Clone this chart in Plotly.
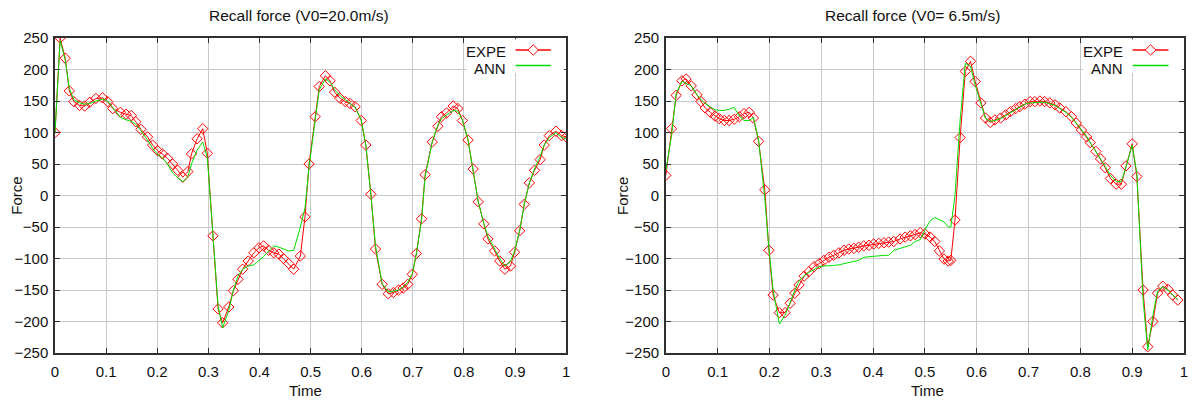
import plotly.graph_objects as go

# ---------------- data: left chart (V0 = 20.0 m/s) ----------------
time_left = [0, .01, .02, .028, .037, .048, .058, .068, .08, .093,
             .103, .113, .128, .139, .149, .158, .168, .181, .191, .201,
             .21, .22, .23, .24, .25, .26, .267, .278, .289, .298,
             .309, .319, .328, .34, .349, .358, .367, .378, .389, .399,
             .408, .418, .428, .438, .447, .457, .467, .48, .489, .497,
             .509, .517, .529, .538, .547, .558, .568, .577, .587, .599,
             .608, .618, .627, .64, .652, .662, .672, .681, .69, .699,
             .707, .717, .724, .738, .749, .756, .766, .779, .788, .797,
             .808, .818, .828, .839, .847, .86, .87, .88, .891, .899,
             .909, .918, .928, .938, .949, .957, .967, .98, .991, 1.0]
expe_left = [100, 250, 218, 166, 149, 143, 142, 148, 154, 155,
             149, 138, 132, 129, 127, 117, 105, 93, 80, 71,
             66, 59, 50, 40, 29, 38, 66, 90, 106, 67,
             -64, -180, -202, -177, -151, -133, -117, -104, -91, -83,
             -80, -87, -91, -93, -100, -108, -117, -96, -34, 50,
             125, 173, 190, 182, 164, 154, 149, 146, 141, 119,
             80, 2, -85, -141, -156, -154, -150, -147, -141, -125,
             -92, -37, 33, 85, 110, 125, 131, 142, 138, 119,
             88, 42, -10, -45, -69, -88, -104, -117, -112, -90,
             -56, -14, 20, 40, 57, 80, 95, 102, 95, 93]
ann_left = [100, 246, 215, 170, 152, 147, 145, 146, 150, 153,
            150, 140, 124, 120, 118, 113, 103, 88, 75, 65,
            60, 50, 36, 28, 22, 30, 50, 72, 85, 60,
            -60, -175, -210, -182, -150, -128, -117, -112, -110, -103,
            -97, -88, -80, -82, -85, -88, -87, -50, -20, 45,
            120, 168, 185, 180, 168, 158, 152, 146, 140, 120,
            80, 0, -80, -140, -153, -152, -150, -145, -138, -124,
            -92, -40, 30, 85, 112, 122, 128, 135, 134, 120,
            88, 42, -10, -45, -65, -85, -100, -112, -105, -88,
            -56, -14, 20, 42, 62, 80, 92, 100, 92, 90]

# ---------------- data: right chart (V0 = 6.5 m/s) ----------------
time_right = [0, .011, .02, .031, .039, .049, .06, .068, .076, .086,
              .095, .103, .113, .122, .132, .142, .151, .161, .169, .179,
              .191, .199, .207, .219, .23, .24, .249, .257, .267, .276,
              .286, .296, .305, .315, .324, .334, .344, .353, .363, .372,
              .382, .392, .401, .411, .421, .43, .44, .452, .462, .472,
              .481, .491, .5, .51, .519, .528, .537, .545, .55, .558,
              .568, .578, .588, .597, .608, .617, .626, .635, .646, .656,
              .665, .675, .683, .693, .703, .712, .722, .731, .741, .751,
              .76, .772, .783, .792, .802, .812, .819, .83, .839, .848,
              .858, .869, .879, .888, .9, .909, .921, .93, .94, .949,
              .959, .969, .978, .988]
expe_right = [32, 106, 159, 182, 185, 174, 160, 149, 139, 132,
              126, 122, 119, 119, 121, 125, 130, 132, 123, 86,
              9, -87, -158, -186, -186, -171, -155, -142, -128, -121,
              -113, -108, -103, -98, -95, -91, -87, -85, -84, -82,
              -80, -79, -77, -76, -75, -74, -73, -69, -66, -64,
              -62, -59, -61, -66, -73, -88, -101, -104, -103, -39,
              92, 197, 213, 181, 147, 123, 116, 120, 123, 128,
              133, 138, 141, 145, 149, 149, 150, 149, 147, 144,
              139, 133, 125, 115, 104, 93, 84, 70, 58, 44,
              27, 18, 18, 47, 82, 30, -150, -240, -200, -155,
              -144, -149, -158, -166]
ann_right = [40, 95, 162, 181, 178, 174, 160, 152, 146, 140,
             136, 135, 135, 137, 140, 126, 119, 119, 124, 88,
             -5, -85, -150, -204, -190, -170, -150, -136, -127, -122,
             -117, -113, -112, -112, -111, -110, -108, -106, -105, -103,
             -98, -97, -96, -96, -95, -95, -87, -84, -81, -79,
             -73, -70, -55, -40, -35, -38, -42, -50, -50, 0,
             120, 210, 205, 175, 145, 122, 118, 119, 122, 127,
             132, 137, 141, 145, 147, 148, 148, 148, 146, 143,
             138, 132, 124, 115, 105, 94, 84, 70, 58, 46,
             32, 22, 22, 45, 80, 35, -165, -245, -190, -152,
             -145, -150, -158, -165]

titles = ["Recall force (V0=20.0m/s)", "Recall force (V0= 6.5m/s)"]
series_names = ["EXPE", "ANN"]
x_title = "Time"
y_title = "Force"

RED = "#ff0000"
GREEN = "#00e000"
FONT = "Liberation Sans, Arial, sans-serif"

fig = go.Figure()

panels = [(time_left, expe_left, ann_left, "x", "y"),
          (time_right, expe_right, ann_right, "x2", "y2")]
for t, e, a, xa, ya in panels:
    fig.add_trace(go.Scatter(x=t, y=e, mode="lines+markers", name=series_names[0],
                             xaxis=xa, yaxis=ya, showlegend=False,
                             line=dict(color=RED, width=1),
                             marker=dict(symbol="diamond-open", size=8,
                                         color=RED, line=dict(width=1, color=RED))))
    fig.add_trace(go.Scatter(x=t, y=a, mode="lines", name=series_names[1],
                             xaxis=xa, yaxis=ya, showlegend=False,
                             line=dict(color=GREEN, width=1)))

axis_common = dict(showgrid=True, gridcolor="#c8c8c8", gridwidth=1,
                   showline=True, linecolor="#303030", linewidth=1.5,
                   mirror="allticks", ticks="inside", ticklen=5,
                   tickcolor="#303030", zeroline=False,
                   tickfont=dict(family=FONT, size=15, color="#111111"))

dom_left = [0, 513 / 1133]
dom_right = [613 / 1133, 1]

fig.update_layout(
    width=1192, height=401,
    margin=dict(l=55, r=4, t=38, b=48),
    paper_bgcolor="white", plot_bgcolor="white",
    font=dict(family=FONT, size=15, color="#111111"),
    xaxis=dict(domain=dom_left, range=[0, 1], dtick=0.1, anchor="y",
               ticklabelstandoff=4, **axis_common),
    yaxis=dict(domain=[0, 1], range=[-250, 250], dtick=50, anchor="x",
               ticklabelstandoff=2, **axis_common),
    xaxis2=dict(domain=dom_right, range=[0, 1], dtick=0.1, anchor="y2",
                ticklabelstandoff=4, **axis_common),
    yaxis2=dict(domain=[0, 1], range=[-250, 250], dtick=50, anchor="x2",
                ticklabelstandoff=2, **axis_common),
)

annotations = []
shapes = []
title_x = [(300 - 55) / 1133, (916 - 55) / 1133]
time_x = [(306 - 55) / 1133, (931 - 55) / 1133]
force_x = [(16 - 55) / 1133, (624.5 - 55) / 1133]
for i, (xa, ya) in enumerate([("x", "y"), ("x2", "y2")]):
    annotations.append(dict(text=titles[i], x=title_x[i], y=(353 - 15) / 315,
                            xref="paper", yref="paper", showarrow=False,
                            xanchor="center", yanchor="middle",
                            font=dict(family=FONT, size=15.5, color="#111111")))
    annotations.append(dict(text=x_title, x=time_x[i], y=(353 - 390) / 315,
                            xref="paper", yref="paper", showarrow=False,
                            xanchor="center", yanchor="middle",
                            font=dict(family=FONT, size=15, color="#111111")))
    annotations.append(dict(text=y_title, x=force_x[i], y=0.5,
                            xref="paper", yref="paper", showarrow=False,
                            textangle=-90, xanchor="center", yanchor="middle",
                            font=dict(family=FONT, size=15, color="#111111")))
    xd, yd = xa + " domain", ya + " domain"
    # legend box (text on the left, sample on the right, as in gnuplot)
    shapes.append(dict(type="rect", xref=xd, yref=yd, x0=0.806, x1=0.996,
                       y0=0.889, y1=0.996, fillcolor="white",
                       line=dict(width=0), layer="above"))
    annotations.append(dict(text=series_names[0], x=0.886, y=0.957, xref=xd, yref=yd,
                            showarrow=False, xanchor="right", yanchor="middle",
                            font=dict(family=FONT, size=15, color="#111111")))
    annotations.append(dict(text=series_names[1], x=0.886, y=0.904, xref=xd, yref=yd,
                            showarrow=False, xanchor="right", yanchor="middle",
                            font=dict(family=FONT, size=15, color="#111111")))
    shapes.append(dict(type="line", xref=xd, yref=yd, x0=0.901, x1=0.970,
                       y0=0.962, y1=0.962, line=dict(color=RED, width=1.5),
                       layer="above"))
    shapes.append(dict(type="line", xref=xd, yref=yd, x0=0.901, x1=0.970,
                       y0=0.913, y1=0.913, line=dict(color=GREEN, width=1.5),
                       layer="above"))
    cx, cy, hw, hh = 0.9355, 0.962, 0.0102, 0.0165
    shapes.append(dict(type="path", xref=xd, yref=yd,
                       path=f"M {cx-hw},{cy} L {cx},{cy+hh} L {cx+hw},{cy} L {cx},{cy-hh} Z",
                       fillcolor="white", line=dict(color=RED, width=1),
                       layer="above"))

fig.update_layout(annotations=annotations, shapes=shapes)
fig.write_html("out.html", config={"displayModeBar": False},
               post_script="document.body.style.margin='0px';document.body.style.overflow='hidden';")
